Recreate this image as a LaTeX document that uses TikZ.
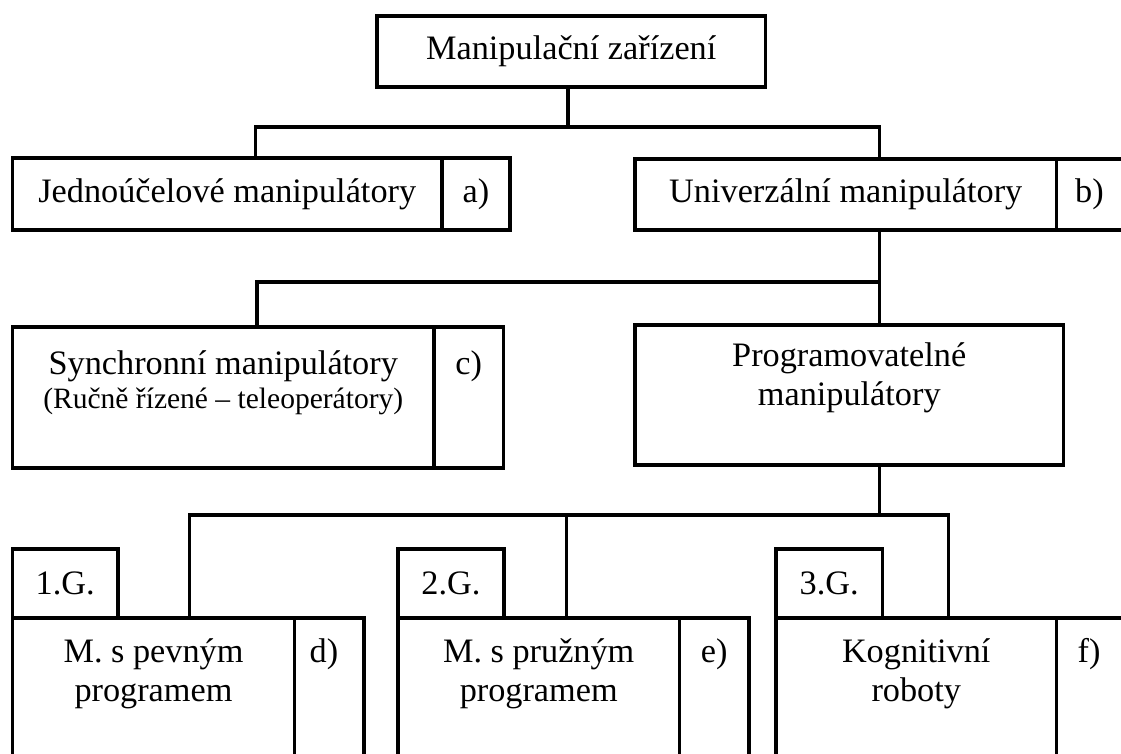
\documentclass[tikz,border=0pt]{standalone}
\usepackage{fontspec}
\setmainfont{Liberation Serif}
\usetikzlibrary{positioning}

\begin{document}
\begin{tikzpicture}[
    box/.style={draw, line width=2.2pt, rectangle, inner sep=0pt, outer sep=0pt, anchor=north west},
    txt/.style={font=\fontsize{19.5}{22.2}\selectfont, align=center, inner sep=0pt},
    conn/.style={line width=2.2pt}
]
    \useasboundingbox (0,0) rectangle (22.42,-15.08);

    % Root
    \node[box, txt, minimum width=7.77cm, minimum height=1.42cm] (root) at (7.54,-0.32) {Manipulační zařízení};

    % Level 1
    \node[box, txt, minimum width=8.59cm, minimum height=1.44cm] (jedno) at (0.25,-3.16) {Jednoúčelové manipulátory};
    \node[box, minimum width=1.36cm, minimum height=1.44cm] (jednoTag) at (jedno.north east) {};
    \node[txt] (jednoLab) at (jednoTag.center) {a)};

    \node[box, txt, minimum width=8.43cm, minimum height=1.42cm] (univ) at (12.7,-3.18) {Univerzální manipulátory};
    \node[box, minimum width=2cm, minimum height=1.42cm] (univTag) at (univ.north east) {};
    \node[txt] (univLab) at ([xshift=0.66cm]univTag.west) {b)};

    % Level 2
    \node[box, minimum width=8.43cm, minimum height=2.82cm] (sync) at (0.25,-6.54) {};
    \node[box, minimum width=1.39cm, minimum height=2.82cm] (syncTag) at (sync.north east) {};
    \node[txt, anchor=base] (syncLab) at ([yshift=-1.64cm]sync.north) {Synchronní manipulátory\\[-2.8pt]\fontsize{16.8}{19}\selectfont (Ručně řízené – teleoperátory)};
    \node[txt, anchor=base] (syncTagLab) at ([yshift=-0.96cm]syncTag.north) {c)};

    \node[box, minimum width=8.57cm, minimum height=2.8cm] (prog) at (12.7,-6.5) {};
    \node[txt, anchor=base] (progLab) at ([yshift=-1.62cm]prog.north) {Programovatelné\\manipulátory};

    % Level 3 -- generations
    \node[box, minimum width=5.64cm, minimum height=3.3cm] (pevny) at (0.25,-12.36) {};
    \node[box, minimum width=1.39cm, minimum height=3.3cm] (pevnyTag) at (pevny.north east) {};
    \node[box, txt, anchor=south west, minimum width=2.11cm, minimum height=1.38cm] (gen1) at (pevny.north west) {1.G.};
    \node[txt, anchor=base] (pevnyLab) at ([yshift=-1.68cm]pevny.north) {M. s pevným\\programem};
    \node[txt, anchor=base] (pevnyTagLab) at ([xshift=0.59cm,yshift=-0.9cm]pevnyTag.north west) {d)};

    \node[box, minimum width=5.63cm, minimum height=3.3cm] (pruzny) at (7.96,-12.36) {};
    \node[box, minimum width=1.39cm, minimum height=3.3cm] (pruznyTag) at (pruzny.north east) {};
    \node[box, txt, anchor=south west, minimum width=2.12cm, minimum height=1.38cm] (gen2) at (pruzny.north west) {2.G.};
    \node[txt, anchor=base] (pruznyLab) at ([yshift=-1.68cm]pruzny.north) {M. s pružným\\programem};
    \node[txt, anchor=base] (pruznyTagLab) at ([yshift=-0.9cm]pruznyTag.north) {e)};

    \node[box, minimum width=5.61cm, minimum height=3.3cm] (kogn) at (15.52,-12.36) {};
    \node[box, minimum width=2cm, minimum height=3.3cm] (kognTag) at (kogn.north east) {};
    \node[box, txt, anchor=south west, minimum width=2.13cm, minimum height=1.38cm] (gen3) at (kogn.north west) {3.G.};
    \node[txt, anchor=base] (kognLab) at ([yshift=-1.68cm]kogn.north) {Kognitivní\\roboty};
    \node[txt, anchor=base] (kognTagLab) at ([xshift=0.65cm,yshift=-0.9cm]kognTag.north west) {f)};

    % Connectors
    \coordinate (bus1) at (11.36,-2.54);
    \coordinate (busA) at (5.11,-2.54);
    \coordinate (busB) at (17.59,-2.54);
    \draw[conn] (bus1 |- root.south) -- (bus1);
    \draw[conn] (busA |- jedno.north) -- (busA) -- (busB) -- (busB |- univ.north);

    \coordinate (busC) at (5.14,-5.64);
    \coordinate (busP) at (17.59,-5.64);
    \draw[conn] (busP |- univ.south) -- (busP |- prog.north);
    \draw[conn] (busC |- sync.north) -- (busC) -- (busP);

    \coordinate (busD) at (3.79,-10.3);
    \coordinate (busE) at (11.33,-10.3);
    \coordinate (busF) at (18.97,-10.3);
    \coordinate (busG) at (17.59,-10.3);
    \draw[conn] (busG |- prog.south) -- (busG);
    \draw[conn] (busD |- pevny.north) -- (busD) -- (busF) -- (busF |- kogn.north);
    \draw[conn] (busE) -- (busE |- pruzny.north);
\end{tikzpicture}
\end{document}
